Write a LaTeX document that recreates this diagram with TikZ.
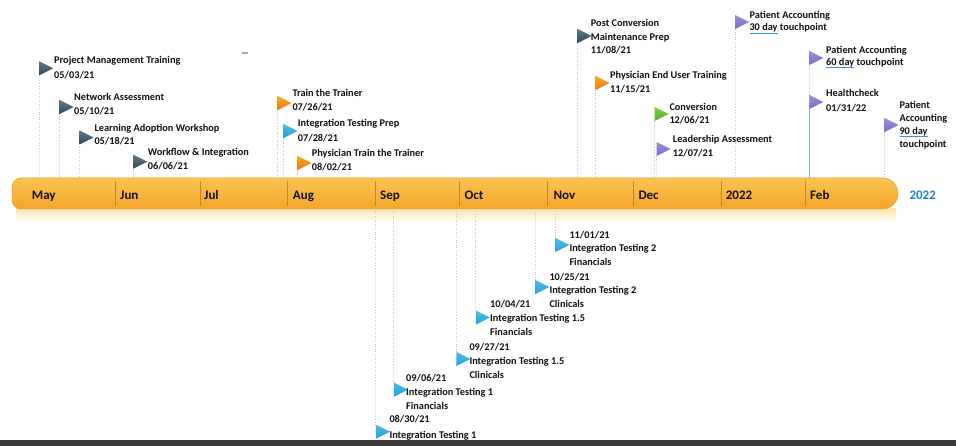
\documentclass[tikz,border=0pt]{standalone}
\usepackage{fontspec}
\setmainfont{Carlito}
\usetikzlibrary{shapes.geometric}
\definecolor{slate}{HTML}{2E4B5C}
\definecolor{orng}{HTML}{F08A24}
\definecolor{bluet}{HTML}{1DA3E0}
\definecolor{grn}{HTML}{4CAF50}
\definecolor{purp}{HTML}{7C6ACD}
\definecolor{txt}{HTML}{111111}
\definecolor{ulblue}{HTML}{3A8FD6}
\definecolor{yr}{HTML}{1D86C8}
\definecolor{barlight}{HTML}{FAC452}
\definecolor{bardark}{HTML}{F4A52A}
\definecolor{baredge}{HTML}{E8A030}
\definecolor{divc}{HTML}{C58520}
\definecolor{guidegray}{HTML}{C4C4C4}
\definecolor{hcline}{HTML}{8FB3D3}
\definecolor{stripdark}{HTML}{383838}
\newcommand\evf[1]{\fontsize{10.3}{#1}\selectfont\bfseries}
\newcommand\hs{\vrule width 0pt height 10pt\relax}
\newcommand\spl[1]{\setbox0\hbox{#1}\rlap{\color{ulblue}\rule[-2.4pt]{\wd0}{0.7pt}}\box0\relax}
\tikzset{
  tri/.style={isosceles triangle, isosceles triangle stretches, minimum width=14pt, minimum height=14pt, inner sep=0pt, draw=none},
  cslate/.style={top color=slate!75!white, bottom color=slate},
  corng/.style={top color=orng!70!yellow, bottom color=orng!85!red},
  cblue/.style={top color=bluet!75!white, bottom color=bluet},
  cgrn/.style={top color=grn!65!yellow, bottom color=grn},
  cpurp/.style={top color=purp!75!white, bottom color=purp},
  evtext/.style={anchor=north west, inner sep=0pt, align=left, text=txt},
  month/.style={anchor=base west, inner sep=0pt, text=txt, font=\fontsize{13}{15}\selectfont\bfseries},
  guide/.style={draw=guidegray, line width=0.6pt, dotted},
  divider/.style={draw=divc, line width=0.8pt}
}
\begin{document}
\begin{tikzpicture}[x=1pt, y=-1pt]
\useasboundingbox[fill=white] (0,0) rectangle (956,446);
% pale band under the bar
\fill[top color=barlight!45!white, bottom color=white] (16,209) rectangle (896,222);
% timeline bar
\path[draw=baredge, line width=0.5pt, top color=barlight, bottom color=bardark]
  (21,178) -- (882.5,178) arc[start angle=90, end angle=-90, radius=15.5pt]
  [rounded corners=9pt] -- (12,209) -- (12,178) [sharp corners] -- cycle;
\coordinate (bartop) at (0,178);
\coordinate (barbot) at (0,211);
% dividers
\foreach \dx in {115,200,287.5,375,459.5,547,633,721,805}
  \draw[divider] (\dx,181) -- (\dx,206);
% months
\node[month] (m1) at (31.7,199.5) {May};
\node[month] (m2) at (120,199.5) {Jun};
\node[month] (m3) at (204,199.5) {Jul};
\node[month] (m4) at (292.7,199.5) {Aug};
\node[month] (m5) at (380,199.5) {Sep};
\node[month] (m6) at (464.5,199.5) {Oct};
\node[month] (m7) at (553.3,199.5) {Nov};
\node[month] (m8) at (638.3,199.5) {Dec};
\node[month] (m9) at (725.7,199.5) {2022};
\node[month] (m10) at (810,199.5) {Feb};
\node[month, text=yr] (m11) at (909.3,199.5) {2022};
% top triangles
\node[tri,cslate] (t1) at (43.5,68.3) {};
\node[tri,cslate] (t2) at (64,107) {};
\node[tri,cslate] (t3) at (84,137.5) {};
\node[tri,cslate] (t4) at (137.5,161.7) {};
\node[tri,corng] (t5) at (282,103) {};
\node[tri,cblue] (t6) at (288,131) {};
\node[tri,corng] (t7) at (302,163) {};
\node[tri,cslate] (t8) at (582,36) {};
\node[tri,corng] (t9) at (600,83) {};
\node[tri,cgrn] (t10) at (659,114) {};
\node[tri,cpurp] (t11) at (661,149) {};
\node[tri,cpurp] (t12) at (739.5,22) {};
\node[tri,cpurp] (t13) at (813.7,58) {};
\node[tri,cpurp] (t14) at (813.7,102) {};
\node[tri,cpurp] (t15) at (889,125) {};
% bottom triangles
\node[tri,cblue] (b1) at (559.7,245) {};
\node[tri,cblue] (b2) at (539.7,287) {};
\node[tri,cblue] (b3) at (480.3,317.5) {};
\node[tri,cblue] (b4) at (460.8,359) {};
\node[tri,cblue] (b5) at (398.3,389.7) {};
\node[tri,cblue] (b6) at (380.3,431.7) {};
% guide lines
\foreach \t in {t1,t2,t3,t4,t5,t6,t7,t8,t9,t10,t11,t12,t13,t15}
  \draw[guide] ([yshift=-7pt]\t.west) -- (\t.west |- bartop);
\draw[draw=hcline, line width=0.7pt] ([yshift=-7pt]t14.west) -- (t14.west |- bartop);
\foreach \t in {b1,b2,b3,b4,b5,b6}
  \draw[guide] ([yshift=7pt]\t.west) -- (\t.west |- barbot);
% top texts
\node[evtext,font=\evf{15}] (e1) at (54,53) {\hs Project Management Training\\05/03/21};
\node[evtext,font=\evf{14}] (e2) at (74,90) {\hs Network Assessment\\05/10/21};
\node[evtext,font=\evf{13.5}] (e3) at (94.3,121) {\hs Learning Adoption Workshop\\05/18/21};
\node[evtext,font=\evf{14}] (e4) at (147.7,145.3) {\hs Workflow \& Integration\\06/06/21};
\node[evtext,font=\evf{14}] (e5) at (292.3,86.7) {\hs Train the Trainer\\07/26/21};
\node[evtext,font=\evf{15}] (e6) at (297.7,116) {\hs Integration Testing Prep\\07/28/21};
\node[evtext,font=\evf{14.7}] (e7) at (311.7,146) {\hs Physician Train the Trainer\\08/02/21};
\node[evtext,font=\evf{13.3}] (e8) at (590.7,16.7) {\hs Post Conversion\\Maintenance Prep\\11/08/21};
\node[evtext,font=\evf{14.4}] (e9) at (610,68.3) {\hs Physician End User Training\\11/15/21};
\node[evtext,font=\evf{13.3}] (e10) at (669.3,100) {\hs Conversion\\12/06/21};
\node[evtext,font=\evf{14}] (e11) at (672.7,132.7) {\hs Leadership Assessment\\12/07/21};
\node[evtext,font=\evf{12.4}] (e12) at (749.3,8.3) {\hs Patient Accounting\\\spl{30 day} touchpoint};
\node[evtext,font=\evf{12.2}] (e13) at (826,43.3) {\hs Patient Accounting\\\spl{60 day} touchpoint};
\node[evtext,font=\evf{15}] (e14) at (826,86.7) {\hs Healthcheck\\01/31/22};
\node[evtext,font=\evf{13.2}] (e15) at (899.3,98) {\hs Patient\\Accounting\\\spl{90 day}\\touchpoint};
% bottom texts
\node[evtext,font=\evf{13.4}] (f1) at (569.3,228.3) {\hs 11/01/21\\Integration Testing 2\\Financials};
\node[evtext,font=\evf{13.7}] (f2) at (549.3,270) {\hs 10/25/21\\Integration Testing 2\\Clinicals};
\node[evtext,font=\evf{14}] (f3) at (490,297.3) {\hs 10/04/21\\Integration Testing 1.5\\Financials};
\node[evtext,font=\evf{14}] (f4) at (469.3,340.7) {\hs 09/27/21\\Integration Testing 1.5\\Clinicals};
\node[evtext,font=\evf{14}] (f5) at (406,371.7) {\hs 09/06/21\\Integration Testing 1\\Financials};
\node[evtext,font=\evf{15.6}] (f6) at (389.3,412.7) {\hs 08/30/21\\Integration Testing 1};
% stray mark
\draw[gray!70, line width=1.5pt] (241.5,53) -- (247.5,53);
% bottom dark strip
\fill[stripdark] (0,439.5) rectangle (956,446);
\end{tikzpicture}
\end{document}
